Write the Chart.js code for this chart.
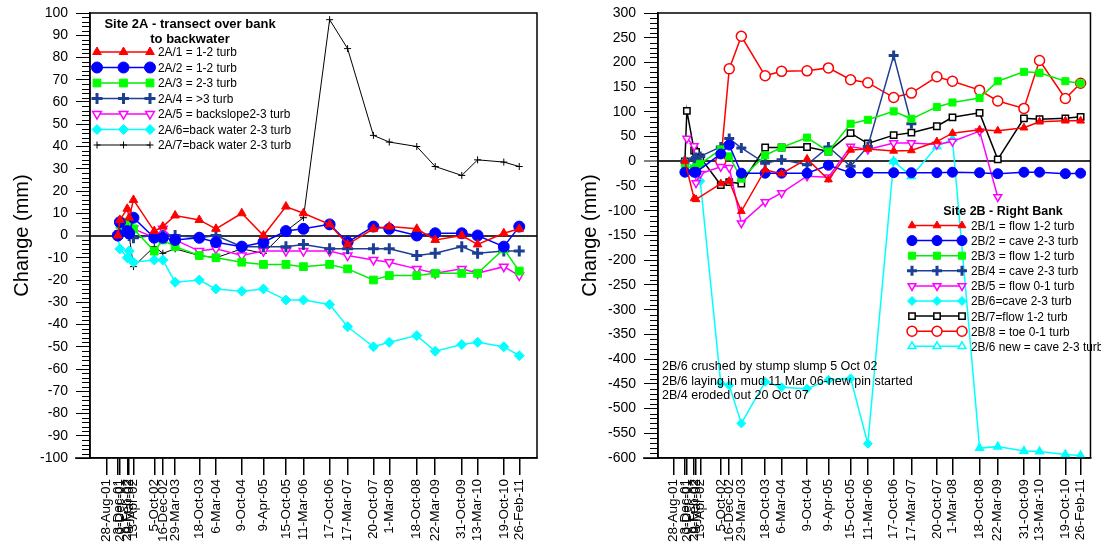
<!DOCTYPE html>
<html lang="en">
<head>
<meta charset="UTF-8">
<title>Site 2A / Site 2B erosion pins</title>
<script src="https://cdn.jsdelivr.net/npm/chart.js"></script>
<style>
  body { margin: 0; background: #fff; }
  .panel { position: absolute; top: 0; height: 552px; }
  #left { left: 0; width: 550px; }
  #right { left: 550px; width: 551px; }
</style>
</head>
<body>
<div class="panel" id="left"><canvas id="chartA"></canvas></div>
<div class="panel" id="right"><canvas id="chartB"></canvas></div>

<script>
// measurement dates (also the x tick labels)
const dates = ['28-Aug-01', '3-Dec-01', '20-Dec-01', '20-Feb-02', '8-Mar-02', '13-Apr-02',
  '5-Oct-02', '16-Dec-02', '29-Mar-03', '18-Oct-03', '6-Mar-04', '9-Oct-04', '9-Apr-05',
  '15-Oct-05', '11-Mar-06', '17-Oct-06', '17-Mar-07', '20-Oct-07', '1-Mar-08', '18-Oct-08',
  '22-Mar-09', '31-Oct-09', '13-Mar-10', '19-Oct-10', '26-Feb-11'];

// Site 2A, change in mm
const site2A_1 = [null, 0, 7, 12, 8, 16, 2, 4, 9, 7, 3, 10, 0, 13, 10, 5, -4, 3, 4, 3, -2, 0, -4, 1, 3];
const site2A_2 = [null, 0, 6, 2, 1, 8, -1, -1, -2, -1, -3, -5, -3, 2, 3, 5, -3, 4, 3, 0, 1, 1, 0, -5, 4];
const site2A_3 = [null, 0, 5, 6, 4, 3, -7, -2, -5, -9, -10, -12, -13, -13, -14, -13, -15, -20, -18, -18, -17, -17, -17, -6, -16];
const site2A_4 = [null, 0, 1, 1, 0, -1, 0, 0, 0, -1, 0, -5, -5, -5, -4, -6, -6, -6, -6, -9, -8, -5, -8, -7, -7];
const site2A_5 = [null, 0, 1, 2, 2, 3, -1, 3, -2, -7, -6, -9, -7, -7, -7, -7, -9, -11, -12, -15, -17, -15, -17, -14, -18];
const site2A_6 = [null, 0, -6, -10, -7, -12, -11, -11, -21, -20, -24, -25, -24, -29, -29, -31, -41, -50, -48, -45, -52, -49, -48, -50, -54];
const site2A_7 = [null, 0, 5, 4, 0, -14, -5, -8, -6, -9, -10, -6, -8, 2, 8, 97, 84, 45, 42, 40, 31, 27, 34, 33, 31];

// Site 2B, change in mm
const site2B_1 = [null, 0, null, -75, -77, null, -45, -40, -101, -17, -25, 5, -37, 23, 25, 21, 22, 40, 57, 64, 62, 68, 80, 82, 82];
const site2B_2 = [null, -22, null, -22, -22, null, 15, 33, -24, -24, -24, -24, -8, -23, -23, -23, -23, -23, -22, -23, -25, -22, -22, -25, -24];
const site2B_3 = [null, -10, null, -15, -12, -5, 24, 10, -35, 12, 28, 48, 20, 76, 84, 101, 86, 110, 119, 128, 162, 181, 179, 162, 158];
const site2B_4 = [null, 0, null, 5, 8, 10, 29, 46, 27, -4, 3, -7, 29, -10, 30, 214, 76, null, null, null, null, null, null, null, null];
const site2B_5 = [null, null, 46, 31, -44, -25, -11, -13, -125, -82, -64, -30, -32, 30, 24, 37, 37, 34, 40, 61, -72, null, null, null, null];
const site2B_6 = [null, 0, null, -12, -18, -40, -449, -453, -530, -446, -457, -460, -442, -439, -571, 0, null, null, null, null, null, null, null, null, null];
const site2B_7 = [null, 0, 102, 22, 19, 8, -48, -42, -45, 28, 28, 29, 20, 57, 36, 53, 58, 71, 89, 98, 4, 87, 85, 87, 90];
const site2B_8 = [null, null, null, null, null, null, 0, 187, 253, 173, 182, 183, 189, 165, 159, 129, 138, 171, 162, 144, 122, 107, 204, 127, 158];
const site2B_6new = [null, null, null, null, null, null, null, null, null, null, null, null, null, null, null, 0, -30, 30, 45, -580, -577, -586, -587, -593, -595];

const notes2B = ['2B/6 crushed by stump slump 5 Oct 02',
  '2B/6 laying in mud 11 Mar 06-new pin started',
  '2B/4 eroded out 20 Oct 07'];

const FONT = '"Liberation Sans", Arial, sans-serif';
const MONTHS = ['Jan', 'Feb', 'Mar', 'Apr', 'May', 'Jun', 'Jul', 'Aug', 'Sep', 'Oct', 'Nov', 'Dec'];

// "5-Oct-02" -> day number
function toDay(s) {
  const p = s.split('-');
  return Date.UTC(2000 + Number(p[2]), MONTHS.indexOf(p[1]), Number(p[0])) / 86400000;
}
const dayLabel = {};
dates.forEach(d => { dayLabel[toDay(d)] = d; });

function toPoints(values) {
  const pts = [];
  values.forEach((v, i) => { if (v !== null) pts.push({ x: toDay(dates[i]), y: v }); });
  return pts;
}

function series(label, values, color, style, extra) {
  return Object.assign({
    label: label,
    data: toPoints(values),
    borderColor: color,
    backgroundColor: color,
    borderWidth: 1.5,
    pointStyle: style,
    pointRadius: 5,
    pointBorderColor: color,
    pointBackgroundColor: color,
    pointBorderWidth: 1,
    pointRotation: 0,
    tension: 0,
    spanGaps: true
  }, extra || {});
}

// minor ticks, frame, in-plot legend and notes
const extras = {
  id: 'extras',
  afterDraw(chart, args, o) {
    const ctx = chart.ctx, a = chart.chartArea, y = chart.scales.y;
    ctx.save();
    ctx.strokeStyle = '#000';
    ctx.lineWidth = 1;
    for (let v = y.min; v <= y.max; v += o.minor) {
      if (v % o.major === 0) continue;
      const py = Math.round(y.getPixelForValue(v)) + 0.5;
      ctx.beginPath();
      ctx.moveTo(a.left - 8, py);
      ctx.lineTo(a.left, py);
      ctx.stroke();
    }
    ctx.lineWidth = 1.5;
    ctx.strokeRect(a.left, a.top, a.right - a.left, a.bottom - a.top);
    ctx.beginPath();
    ctx.moveTo(a.left - 15, a.bottom);
    ctx.lineTo(a.left, a.bottom);
    ctx.stroke();

    // legend
    const L = o.legend;
    ctx.fillStyle = '#000';
    ctx.font = 'bold ' + L.titleSize + 'px ' + FONT;
    ctx.textAlign = 'center';
    ctx.textBaseline = 'middle';
    L.title.forEach((t, i) => ctx.fillText(t, L.titleX, L.titleY + i * 15));
    chart.data.datasets.forEach((ds, i) => {
      const ry = L.y + i * L.row;
      ctx.strokeStyle = ds.borderColor;
      ctx.lineWidth = ds.borderWidth;
      ctx.beginPath();
      ctx.moveTo(L.x, ry);
      ctx.lineTo(L.x + L.w, ry);
      ctx.stroke();
      [0, 0.5, 1].forEach(f => {
        ctx.fillStyle = ds.legendFill || ds.pointBackgroundColor;
        ctx.strokeStyle = ds.pointBorderColor;
        ctx.lineWidth = ds.pointBorderWidth;
        Chart.helpers.drawPoint(ctx, {
          pointStyle: ds.pointStyle, radius: ds.pointRadius,
          rotation: ds.pointRotation, borderWidth: ds.pointBorderWidth
        }, L.x + f * L.w, ry);
      });
      ctx.fillStyle = '#000';
      ctx.font = L.size + 'px ' + FONT;
      ctx.textAlign = 'left';
      const tw = ctx.measureText(ds.label).width;
      ctx.fillText(ds.label, L.x + L.w + L.gap, ry + 1, tw * 0.95);
    });

    if (o.notes) {
      ctx.font = '12.5px ' + FONT;
      ctx.textAlign = 'left';
      o.notes.lines.forEach((t, i) => ctx.fillText(t, o.notes.x, o.notes.y + i * 14.5));
    }
    ctx.restore();
  }
};

function makeOptions(cfg) {
  return {
    responsive: true,
    maintainAspectRatio: false,
    animation: false,
    layout: { padding: { top: 13, right: cfg.padRight, left: 0, bottom: 0 } },
    plugins: {
      legend: { display: false },
      tooltip: { enabled: false },
      extras: cfg.extras
    },
    scales: {
      x: {
        type: 'linear',
        min: toDay(cfg.xMin),
        max: toDay(cfg.xMax),
        afterBuildTicks: s => { s.ticks = dates.map(d => ({ value: toDay(d) })); },
        afterFit: s => { s.height = 94; },
        grid: { drawOnChartArea: false, color: '#000', tickLength: 17, lineWidth: 1.5 },
        border: { color: '#000', width: 1.5 },
        ticks: {
          autoSkip: false, minRotation: 90, maxRotation: 90, padding: 4,
          color: '#000', font: { family: FONT, size: 13.5 },
          callback: v => dayLabel[v] || ''
        }
      },
      y: {
        min: cfg.yMin,
        max: cfg.yMax,
        afterFit: s => { s.width = cfg.yWidth; s.paddingTop = 0; s.paddingBottom = 0; },
        grid: {
          color: c => c.tick && c.tick.value === 0 ? '#333' : 'rgba(0,0,0,0)',
          lineWidth: c => c.tick && c.tick.value === 0 ? 2 : 1,
          tickColor: '#000', tickWidth: 1, tickLength: 14
        },
        border: { color: '#000', width: 1.5 },
        title: {
          display: true, text: 'Change (mm)', color: '#000',
          font: { family: FONT, size: 20 }, padding: { top: cfg.titlePad, bottom: 0 }
        },
        ticks: {
          stepSize: cfg.step, padding: 8, color: '#000',
          font: { family: FONT, size: 14 }
        }
      }
    }
  };
}

const navy = '#1c3f94';

new Chart(document.getElementById('chartA'), {
  type: 'line',
  data: {
    datasets: [
      series('2A/1 = 1-2 turb', site2A_1, '#ff0000', 'triangle', { pointRadius: 5 }),
      series('2A/2 = 1-2 turb', site2A_2, '#0000ff', 'circle', { pointRadius: 5.5 }),
      series('2A/3 = 2-3 turb', site2A_3, '#00ee00', 'rect', { pointRadius: 5.5, pointBackgroundColor: '#00ff00', pointBorderColor: '#00ff00' }),
      series('2A/4 = >3 turb', site2A_4, navy, 'cross', { pointRadius: 5.5, pointBorderWidth: 3 }),
      series('2A/5 = backslope2-3 turb', site2A_5, '#ff00ff', 'triangle', { pointRadius: 5, pointRotation: 180, pointBackgroundColor: '#fff', pointBorderWidth: 1.5 }),
      series('2A/6=back water 2-3 turb', site2A_6, '#00ffff', 'rectRot', { pointRadius: 5 }),
      series('2A/7=back water 2-3 turb', site2A_7, '#000', 'cross', { pointRadius: 3.5, borderWidth: 1 })
    ]
  },
  options: makeOptions({
    xMin: '13-Apr-01', xMax: '25-Jul-11', yMin: -100, yMax: 100, step: 10,
    yWidth: 90, padRight: 13, titlePad: 10,
    extras: {
      minor: 2, major: 10,
      legend: { title: ['Site 2A - transect over bank', 'to backwater'], titleX: 190, titleY: 24, titleSize: 13,
        x: 97, w: 53, gap: 8, y: 52, row: 15.5, size: 12.5 }
    }
  }),
  plugins: [extras]
});

new Chart(document.getElementById('chartB'), {
  type: 'line',
  data: {
    datasets: [
      series('2B/1 = flow 1-2 turb', site2B_1, '#ff0000', 'triangle', { pointRadius: 4.5 }),
      series('2B/2 = cave 2-3 turb', site2B_2, '#0000ff', 'circle', { pointRadius: 5 }),
      series('2B/3 = flow 1-2 turb', site2B_3, '#00ee00', 'rect', { pointRadius: 5, pointBackgroundColor: '#00ff00', pointBorderColor: '#00ff00' }),
      series('2B/4 = cave 2-3 turb', site2B_4, navy, 'cross', { pointRadius: 5, pointBorderWidth: 3 }),
      series('2B/5 = flow 0-1 turb', site2B_5, '#ff00ff', 'triangle', { pointRadius: 4.5, pointRotation: 180, pointBackgroundColor: '#fff', pointBorderWidth: 1.5 }),
      series('2B/6=cave 2-3 turb', site2B_6, '#00ffff', 'rectRot', { pointRadius: 4.5 }),
      series('2B/7=flow 1-2 turb', site2B_7, '#000', 'rect', { pointRadius: 4.5, pointBackgroundColor: '#fff', pointBorderWidth: 1.5 }),
      series('2B/8 = toe 0-1 turb', site2B_8, '#ff0000', 'circle', { pointRadius: 5, pointBackgroundColor: '#fff', pointBorderWidth: 1.5 }),
      series('2B/6 new = cave 2-3 turb', site2B_6new, '#00ffff', 'triangle', { pointRadius: 4.5, pointBorderWidth: 1.5, legendFill: '#fff' })
    ]
  },
  options: makeOptions({
    xMin: '18-Apr-01', xMax: '21-May-11', yMin: -600, yMax: 300, step: 50,
    yWidth: 108, padRight: 5, titlePad: 28,
    extras: {
      minor: 10, major: 50,
      legend: { title: ['Site 2B - Right Bank'], titleX: 453, titleY: 212, titleSize: 12.5,
        x: 362, w: 50, gap: 9, y: 225.5, row: 15.1, size: 12.5 },
      notes: { x: 112, y: 367, lines: notes2B }
    }
  }),
  plugins: [extras]
});
</script>
</body>
</html>
